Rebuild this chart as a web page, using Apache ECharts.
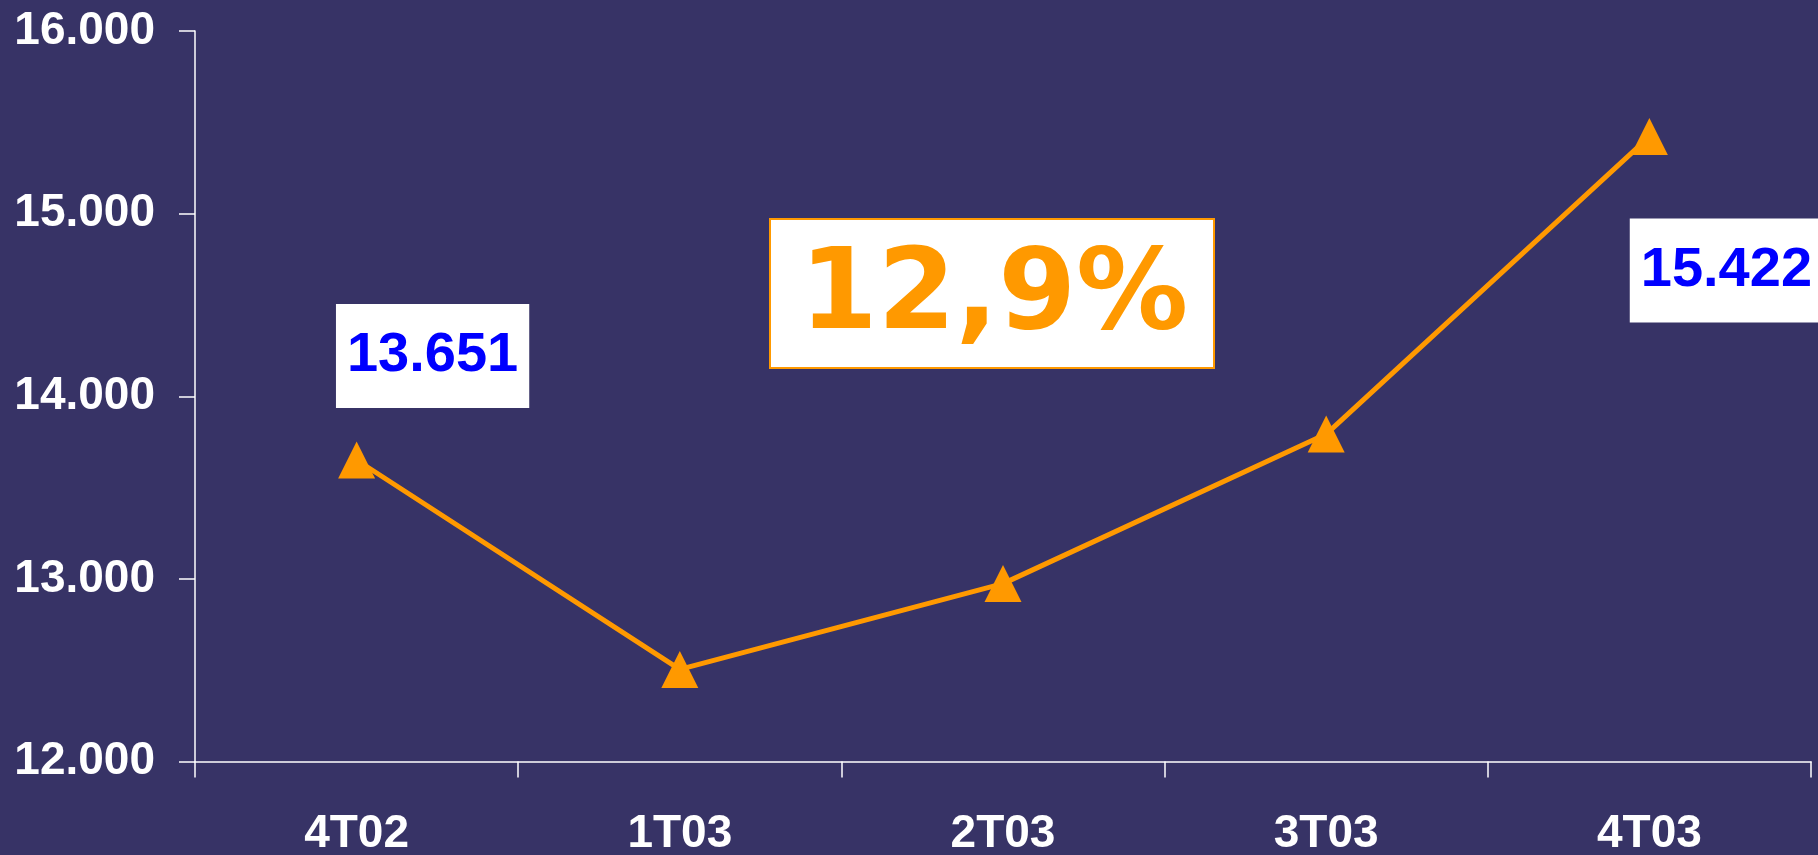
<!DOCTYPE html>
<html>
<head>
<meta charset="utf-8">
<script src="https://cdn.jsdelivr.net/npm/echarts@6/dist/echarts.min.js"></script>
<style>
html,body{margin:0;padding:0;background:#373366;}
#chart{width:1818px;height:855px;}
</style>
</head>
<body>
<div id="chart"></div>
<script>
const categories = ['4T02', '1T03', '2T03', '3T03', '4T03'];
const values = [13651, 12504, 12974, 13793, 15422];
const labelledIndices = [0, 4];
const growthText = '12,9%';
const yMin = 12000, yMax = 16000, yStep = 1000;

function fmt(v) {
  const s = String(Math.round(v));
  return s.replace(/\B(?=(\d{3})+(?!\d))/g, '.');
}

const labelOffsets = { 0: [76, -104], 4: [77, 134] };

const seriesData = values.map((v, i) => {
  if (labelledIndices.indexOf(i) >= 0) {
    return {
      value: v,
      label: {
        show: true,
        position: 'inside',
        offset: labelOffsets[i],
        formatter: p => fmt(p.value),
        color: '#0000FF',
        fontFamily: 'Liberation Sans, Arial, sans-serif',
        fontWeight: 'bold',
        fontSize: 56,
        lineHeight: 56,
        backgroundColor: '#FFFFFF',
        padding: [24, 11, 24, 11]
      }
    };
  }
  return v;
});

const chart = echarts.init(document.getElementById('chart'), null, {renderer: 'canvas'});
chart.setOption({
  backgroundColor: '#373366',
  animation: false,
  grid: { left: 195, right: 7, top: 31, bottom: 93.5, containLabel: false, outerBoundsMode: 'none' },
  xAxis: {
    type: 'category',
    data: categories,
    boundaryGap: true,
    axisLine: { lineStyle: { color: '#FFFFFF', width: 1.5 } },
    axisTick: { show: true, interval: 0, length: 16, lineStyle: { color: '#FFFFFF', width: 1.5 } },
    axisLabel: {
      color: '#FFFFFF', fontFamily: 'Liberation Sans, Arial, sans-serif',
      fontWeight: 'bold', fontSize: 46, margin: 50, interval: 0
    },
    splitLine: { show: false }
  },
  yAxis: {
    type: 'value',
    min: yMin, max: yMax, interval: yStep,
    axisLine: { show: true, lineStyle: { color: '#FFFFFF', width: 1.5 } },
    axisTick: { show: true, length: 16, lineStyle: { color: '#FFFFFF', width: 1.5 } },
    axisLabel: {
      color: '#FFFFFF', fontFamily: 'Liberation Sans, Arial, sans-serif',
      fontWeight: 'bold', fontSize: 46, margin: 40,
      formatter: v => fmt(v)
    },
    splitLine: { show: false }
  },
  series: [{
    type: 'line',
    data: seriesData,
    symbol: 'triangle',
    symbolSize: [37, 37],
    lineStyle: { color: '#FF9900', width: 5 },
    itemStyle: { color: '#FF9900' },
    label: { show: false },
    z: 3
  }],
  graphic: [{
    type: 'group',
    left: 769, top: 218,
    z: 10,
    children: [{
      type: 'rect',
      shape: { x: 0, y: 0, width: 444, height: 149 },
      style: { fill: '#FFFFFF', stroke: '#FF9900', lineWidth: 2 }
    }, {
      type: 'text',
      x: 224, y: 80,
      style: {
        text: growthText,
        fill: '#FF9900',
        font: 'bold 112px "DejaVu Sans", Verdana, sans-serif',
        textAlign: 'center',
        textVerticalAlign: 'middle'
      }
    }]
  }]
});
</script>
</body>
</html>
